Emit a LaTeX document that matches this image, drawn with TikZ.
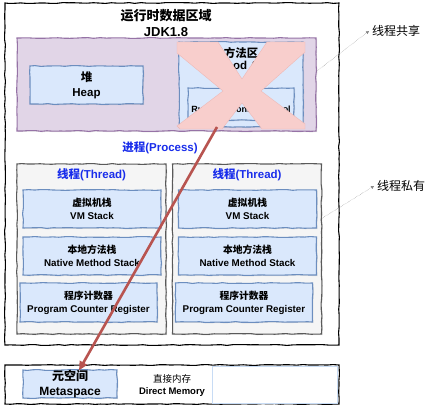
\documentclass[tikz,border=0pt]{standalone}
\usepackage{fontspec}
\setmainfont{Liberation Sans}
\newfontfamily\cjk{Noto Sans CJK SC}
\usetikzlibrary{positioning, calc}
\usetikzlibrary{decorations.pathmorphing, shadows}
\usetikzlibrary{arrows, arrows.meta}
\definecolor{purfill}{RGB}{225,213,231}
\definecolor{purline}{RGB}{150,115,166}
\definecolor{bluefill}{RGB}{218,232,252}
\definecolor{blueline}{RGB}{108,142,191}
\definecolor{greyfill}{RGB}{245,245,245}
\definecolor{greyline}{RGB}{90,90,90}
\definecolor{crossfill}{RGB}{248,206,204}
\definecolor{crossline}{RGB}{238,185,182}
\definecolor{arrowred}{RGB}{184,84,80}
\definecolor{procblue}{RGB}{25,45,235}
\tikzset{ sketch/.style={decorate,
         decoration={random steps, segment length=6pt, amplitude=0.45pt}},
        shade/.style={drop shadow={shadow xshift=1pt, shadow yshift=-1pt, opacity=0.2}},
        outerbox/.style={draw=black, fill=white, line width=1.1pt, sketch},
        sharebox/.style={draw=purline, fill=purfill, line width=1.1pt, sketch, shade},
        blk/.style={draw=blueline, fill=bluefill, line width=1.1pt, sketch, shade,
            align=center, font=\fontsize{9.8}{13}\selectfont\bfseries},
        thr/.style={draw=greyline, fill=greyfill, line width=1.1pt, sketch, shade},
        bluetxt/.style={text=procblue, font=\fontsize{11.5}{14}\selectfont\bfseries},
        note/.style={font=\fontsize{12}{14}\selectfont\cjk},
        noteline/.style={gray, line width=0.4pt, densely dotted, -{Triangle[length=3pt,width=3pt]}}}

\begin{document}
\begin{tikzpicture}[x=1pt, y=-1pt, inner sep=0pt]
\useasboundingbox (0,0) rectangle (425,409);

% runtime data area
\node[outerbox, minimum width=334pt, minimum height=342pt] (rt) at (172,174) {};
\node[align=center, font=\fontsize{13}{16}\selectfont\bfseries] (tit) at (166,23)
  {{\cjk 运行时数据区域}\\JDK1.8};

% shared by threads
\node[sharebox, minimum width=299pt, minimum height=93pt] (shr) at (166.5,84.5) {};
\node[blk, minimum width=113pt, minimum height=38pt,
  font=\fontsize{11.5}{15}\selectfont\bfseries] (heap) at (86.5,85) {{\cjk 堆}\\Heap};
\node[blk, minimum width=124pt, minimum height=85pt] (ma) at (241,84.5) {};
\node[align=center, font=\fontsize{11.5}{12}\selectfont\bfseries] (mat) at (241,59)
  {{\cjk 方法区}\\Method Area};
\node[blk, minimum width=106pt, minimum height=32pt] (pool) at (241,104) {};
\node[font=\fontsize{9}{11}\selectfont\bfseries] (poolt) at (241,109) {Runtime Constant Pool};

% method area crossed out
\fill[crossfill, draw=crossline, line width=0.4pt]
  (177,42) -- (218,42) -- (242,79) -- (267,42) -- (305,42) -- (305,52)
  -- (261,91) -- (305,124) -- (305,129) -- (262,129) -- (242,103)
  -- (222,129) -- (180,129) -- (177,126) -- (223,91) -- (177,53) -- cycle;

\node[bluetxt] (proc) at (160,148) {{\cjk 进程}(Process)};

% one column per thread
\foreach \c/\n in {91.5/l, 247/r} {
  \node[thr, minimum width=149pt, minimum height=170pt] (thr\n) at (\c,249) {};
  \node[bluetxt] (tl\n) at (\c,175) {{\cjk 线程}(Thread)};
  \node[blk, minimum width=138pt, minimum height=38pt] (vm\n) at (\c+0.5,209)
    {{\cjk 虚拟机栈}\\VM Stack};
  \node[blk, minimum width=138pt, minimum height=38pt] (nm\n) at (\c+0.5,256)
    {{\cjk 本地方法栈}\\Native Method Stack};
  \node[blk, minimum width=137pt, minimum height=39pt] (pc\n) at (\c-3,302.5)
    {{\cjk 程序计数器}\\Program Counter Register};
}

% direct memory
\node[outerbox, minimum width=334pt, minimum height=39pt] (dm) at (172,384.5) {};
\node[blk, minimum width=94pt, minimum height=28pt,
  font=\fontsize{12}{15}\selectfont\bfseries] (meta) at (70,384) {{\cjk 元空间}\\Metaspace};
\node[align=center, font=\fontsize{9.5}{12}\selectfont\bfseries] (dmt) at (172,385)
  {{\cjk\mdseries 直接内存}\\Direct Memory};
\node[draw={rgb,255:red,200;green,220;blue,245}, fill=white, line width=1pt,
  minimum width=125pt, minimum height=37pt] (free) at (275,384.5) {};

% moved to metaspace
\coordinate (xs) at (217,127);
\draw[arrowred, line width=2.6pt, -{Triangle[length=9pt,width=8pt]}]
  (xs) -- ([xshift=9pt, yshift=-1pt]meta.north);

% side notes
\node[note, anchor=west] (sh) at (372,31) {线程共享};
\node[note, anchor=west] (pr) at (377,186) {线程私有};
\draw[noteline] ($(shr.north east)!0.36!(shr.south east)$) -- ([xshift=-3pt]sh.west);
\draw[noteline] ($(thrr.north east)!0.32!(thrr.south east)$) -- ([xshift=-3pt]pr.west);

\end{tikzpicture}
\end{document}
